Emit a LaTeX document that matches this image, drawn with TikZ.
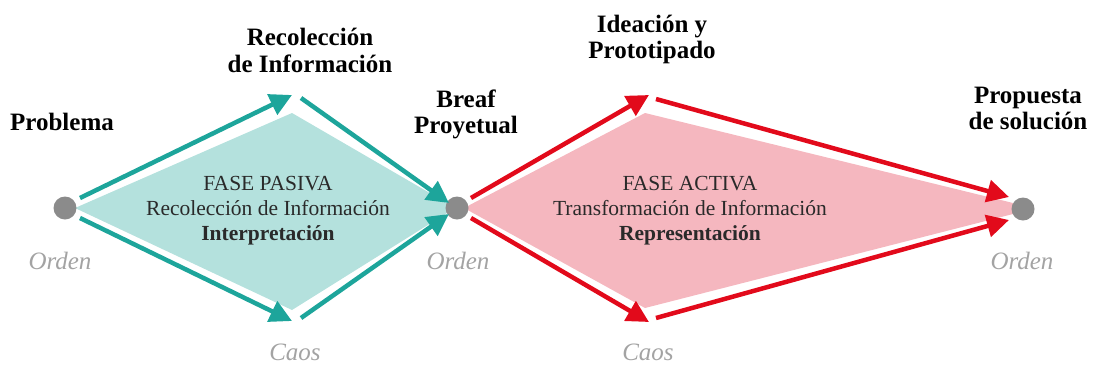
\documentclass[tikz,border=0pt]{standalone}
\usepackage{fontspec}
\setmainfont{Liberation Serif}
\usetikzlibrary{arrows.meta}
\definecolor{tealA}{HTML}{1DA59B}
\definecolor{tealF}{HTML}{B4E1DD}
\definecolor{redA}{HTML}{E20A1B}
\definecolor{pinkF}{HTML}{F5B7BF}
\definecolor{dotG}{HTML}{8B8B8B}
\definecolor{txtG}{HTML}{A3A3A3}
\definecolor{txtD}{HTML}{2A2A2A}
\begin{document}
\begin{tikzpicture}[x=1pt,y=-1pt,
  tarrow/.style={draw=tealA,line width=4.5pt,-{Triangle[length=22pt,width=22pt]}},
  rarrow/.style={draw=redA,line width=4.5pt,-{Triangle[length=22pt,width=22pt]}},
  dotnode/.style={circle,fill=dotG,minimum size=23pt,inner sep=0pt},
  title/.style={font=\fontsize{25}{27}\selectfont\bfseries,align=center,text=black,anchor=base},
  body/.style={font=\fontsize{21.5}{25}\selectfont,text=txtD,anchor=base},
  bodyb/.style={body,font=\fontsize{21.5}{25}\selectfont\bfseries},
  gray/.style={font=\fontsize{25}{27}\selectfont\itshape,text=txtG,anchor=base}
]
\useasboundingbox (0,0) rectangle (1093,365);
% fills
\fill[tealF] (75,208) -- (292,113) -- (447,203) -- (447,213) -- (292,310) -- cycle;
\fill[pinkF] (464,208) -- (645,113) -- (1013,203) -- (1013,214) -- (645,308) -- cycle;
% dots
\node[dotnode] (d1) at (65,208) {};
\node[dotnode] (d2) at (457,208) {};
\node[dotnode] (d3) at (1023,209) {};
% arrow coordinates
\coordinate (a1s) at (80,198);  \coordinate (a1e) at (292,95);
\coordinate (a2s) at (301,98);  \coordinate (a2e) at (449,203);
\coordinate (a3s) at (80,218);  \coordinate (a3e) at (292,321);
\coordinate (a4s) at (301,318); \coordinate (a4e) at (449,214);
\coordinate (b1s) at (471,198); \coordinate (b1e) at (649,95);
\coordinate (b2s) at (656,99);  \coordinate (b2e) at (1009,197);
\coordinate (b3s) at (471,218); \coordinate (b3e) at (649,322);
\coordinate (b4s) at (656,318); \coordinate (b4e) at (1009,220);
\draw[tarrow] (a1s) -- (a1e);
\draw[tarrow] (a2s) -- (a2e);
\draw[tarrow] (a3s) -- (a3e);
\draw[tarrow] (a4s) -- (a4e);
\draw[rarrow] (b1s) -- (b1e);
\draw[rarrow] (b2s) -- (b2e);
\draw[rarrow] (b3s) -- (b3e);
\draw[rarrow] (b4s) -- (b4e);
% titles
\node[title] (t1) at (62,130) {Problema};
\node[title] (t2a) at (310,45) {Recolección};
\node[title] (t2b) at (310,72) {de Información};
\node[title] (t3a) at (466,107) {Breaf};
\node[title] (t3b) at (466,133) {Proyetual};
\node[title] (t4a) at (652,32) {Ideación y};
\node[title] (t4b) at (652,58) {Prototipado};
\node[title] (t5a) at (1028,103) {Propuesta};
\node[title] (t5b) at (1028,129) {de solución};
% body texts
\node[body] (p1) at (268,190) {FASE PASIVA};
\node[body] (p2) at (268,215) {Recolección de Información};
\node[bodyb] (p3) at (268,240) {Interpretación};
\node[body] (q1) at (690,190) {FASE ACTIVA};
\node[body] (q2) at (690,215) {Transformación de Información};
\node[bodyb] (q3) at (690,240) {Representación};
% gray labels
\node[gray] (o1) at (60,269) {Orden};
\node[gray] (o2) at (458,269) {Orden};
\node[gray] (o3) at (1022,269) {Orden};
\node[gray] (c1) at (295,360) {Caos};
\node[gray] (c2) at (648,360) {Caos};
\end{tikzpicture}
\end{document}
